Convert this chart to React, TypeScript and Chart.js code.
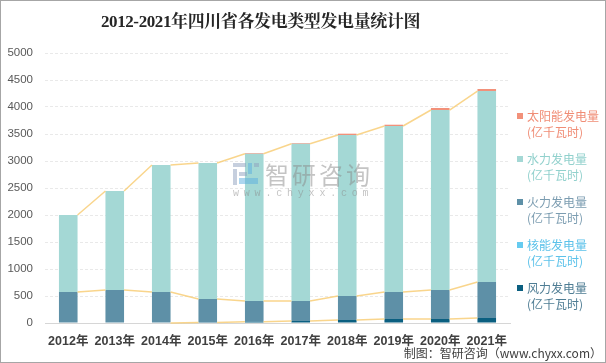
import React, { useEffect, useRef } from "react";
import { Chart, registerables } from "chart.js";

Chart.register(...registerables);

const years = ["2012年", "2013年", "2014年", "2015年", "2016年", "2017年", "2018年", "2019年", "2020年", "2021年"];
const windPower = [0, 0, 0, 8, 25, 37, 56, 74, 74, 93];
const nuclearPower = [0, 0, 0, 0, 0, 0, 0, 0, 0, 0];
const thermalPower = [574, 611, 574, 436, 382, 370, 444, 500, 537, 666];
const hydroPower = [1426, 1833, 2352, 2519, 2728, 2913, 2981, 3074, 3333, 3537];
const solarPower = [0, 0, 0, 0, 13, 13, 25, 24, 37, 37];

const seriesNames = ["风力发电量", "核能发电量", "火力发电量", "水力发电量", "太阳能发电量"];
const unitLabel = "(亿千瓦时)";
const seriesColors = ["#0b5f80", "#66cbf0", "#5e90a7", "#a4d8d5", "#f2917a"];
const legendTextColors = ["#4f7d94", "#5cc2ea", "#7c9db1", "#92d1cd", "#f08d76"];

const titleText = "2012-2021年四川省各发电类型发电量统计图";
const sourceText = "制图：智研咨询（www.chyxx.com）";

const yMax = 5000;
const yStep = 500;

const seriesLinePlugin = {
  id: "seriesLines",
  afterDatasetsDraw(chart: any) {
    const ctx = chart.ctx;
    ctx.save();
    ctx.strokeStyle = "rgba(248, 206, 120, 0.85)";
    ctx.lineWidth = 1.5;
    const stacks = [0, 2, 3];
    for (const di of stacks) {
      const meta = chart.getDatasetMeta(di);
      const els = meta.data;
      const cum = years.map((_, i) => {
        let s = 0;
        for (let k = 0; k <= di; k++) s += (chart.data.datasets[k].data[i] as number) || 0;
        return s;
      });
      ctx.beginPath();
      for (let i = 0; i < els.length - 1; i++) {
        if (cum[i] === 0 && cum[i + 1] === 0) continue;
        const a = els[i];
        const b = els[i + 1];
        ctx.moveTo(a.x + a.width / 2, a.y);
        ctx.lineTo(b.x - b.width / 2, b.y);
      }
      ctx.stroke();
    }
    ctx.restore();
  },
};

export default function App() {
  const canvasRef = useRef<HTMLCanvasElement | null>(null);

  useEffect(() => {
    if (!canvasRef.current) return;
    const values = [windPower, nuclearPower, thermalPower, hydroPower, solarPower];
    const chart = new Chart(canvasRef.current, {
      type: "bar",
      data: {
        labels: years,
        datasets: values.map((v, i) => ({
          label: seriesNames[i],
          data: v,
          backgroundColor: seriesColors[i],
          borderWidth: 0,
          barPercentage: 0.4,
          categoryPercentage: 1,
        })),
      },
      options: {
        responsive: false,
        maintainAspectRatio: false,
        animation: false,
        devicePixelRatio: 1,
        layout: { padding: { left: 0, right: 96, top: 53, bottom: 0 } },
        plugins: {
          legend: { display: false },
          tooltip: { enabled: false },
          title: { display: false },
        },
        scales: {
          x: {
            stacked: true,
            grid: { display: false, drawTicks: false },
            border: { display: true, color: "#d6d6d6", width: 1 },
            ticks: {
              color: "#404040",
              padding: 11,
              font: { family: "'Liberation Sans', 'Noto Sans CJK SC', sans-serif", size: 12.5, weight: "bold" },
              maxRotation: 0,
              autoSkip: false,
            },
            afterFit: (s: any) => {
              s.height = 40;
            },
          },
          y: {
            stacked: true,
            min: 0,
            max: yMax,
            grid: { color: "#e9e9e9", drawTicks: false, lineWidth: 1 },
            border: { display: false, dash: [3, 2] },
            ticks: {
              stepSize: yStep,
              color: "#595959",
              padding: 12,
              font: { family: "'Liberation Sans', sans-serif", size: 11.5 },
              callback: (v: any) => String(v),
            },
            afterFit: (s: any) => {
              s.width = 45;
            },
          },
        },
      },
      plugins: [seriesLinePlugin],
    });
    return () => chart.destroy();
  }, []);

  const legendOrder = [4, 3, 2, 1, 0];

  return (
    <div
      style={{
        position: "absolute",
        left: 0,
        top: 0,
        width: 606,
        height: 363,
        background: "#ffffff",
        overflow: "hidden",
        fontFamily: "'Noto Sans CJK SC', sans-serif",
      }}
    >
      <canvas ref={canvasRef} width={606} height={363} style={{ position: "absolute", left: 0, top: 0, width: 606, height: 363 }} />
      <div
        style={{
          position: "absolute",
          left: 0,
          top: 11,
          width: 521,
          textAlign: "center",
          fontFamily: "'Liberation Serif', 'Noto Serif CJK SC', serif",
          fontWeight: "bold",
          fontSize: 17,
          letterSpacing: -0.4,
          lineHeight: "22px",
          color: "#262626",
          whiteSpace: "nowrap",
        }}
      >
        {titleText}
      </div>
      {legendOrder.map((si, idx) => (
        <div key={si} style={{ position: "absolute", left: 517, top: 108 + idx * 43, whiteSpace: "nowrap" }}>
          <div style={{ position: "absolute", left: 0, top: 5, width: 6, height: 6, background: seriesColors[si] }} />
          <div style={{ position: "absolute", left: 10, top: 0, fontSize: 12, lineHeight: "16px", color: legendTextColors[si] }}>
            <div>{seriesNames[si]}</div>
            <div>{unitLabel}</div>
          </div>
        </div>
      ))}
      <div
        style={{
          position: "absolute",
          right: 4,
          top: 345,
          fontSize: 12,
          lineHeight: "16px",
          color: "#404040",
          whiteSpace: "nowrap",
        }}
      >
        {sourceText}
      </div>
      <div style={{ position: "absolute", left: 233, top: 160, width: 150, height: 40, opacity: 0.5, pointerEvents: "none" }}>
        <svg width="26" height="23" style={{ position: "absolute", left: 0, top: 3 }}>
          <rect x="0" y="0" width="13" height="4" fill="#8d9fbe" />
          <rect x="15" y="0" width="4" height="11" fill="#5aaee0" />
          <rect x="21" y="0" width="5" height="4" fill="#8d9fbe" />
          <rect x="0" y="6" width="4" height="16" fill="#8d9fbe" />
          <rect x="6" y="9" width="8" height="4" fill="#8d9fbe" />
          <rect x="6" y="15" width="19" height="6" fill="#5aaee0" />
        </svg>
        <div style={{ position: "absolute", left: 32, top: 0, fontSize: 24, lineHeight: "28px", letterSpacing: 3, color: "#8a8a8a" }}>
          智研咨询
        </div>
        <div
          style={{
            position: "absolute",
            left: 0,
            top: 28,
            fontFamily: "'Liberation Mono', monospace",
            fontSize: 10,
            lineHeight: "12px",
            letterSpacing: 4.8,
            color: "#8a8a8a",
            whiteSpace: "nowrap",
          }}
        >
          www.chyxx.com
        </div>
      </div>
      <div style={{ position: "absolute", left: 0, top: 0, width: 606, height: 363, boxSizing: "border-box", border: "1px solid #a6a6a6", pointerEvents: "none" }} />
    </div>
  );
}
